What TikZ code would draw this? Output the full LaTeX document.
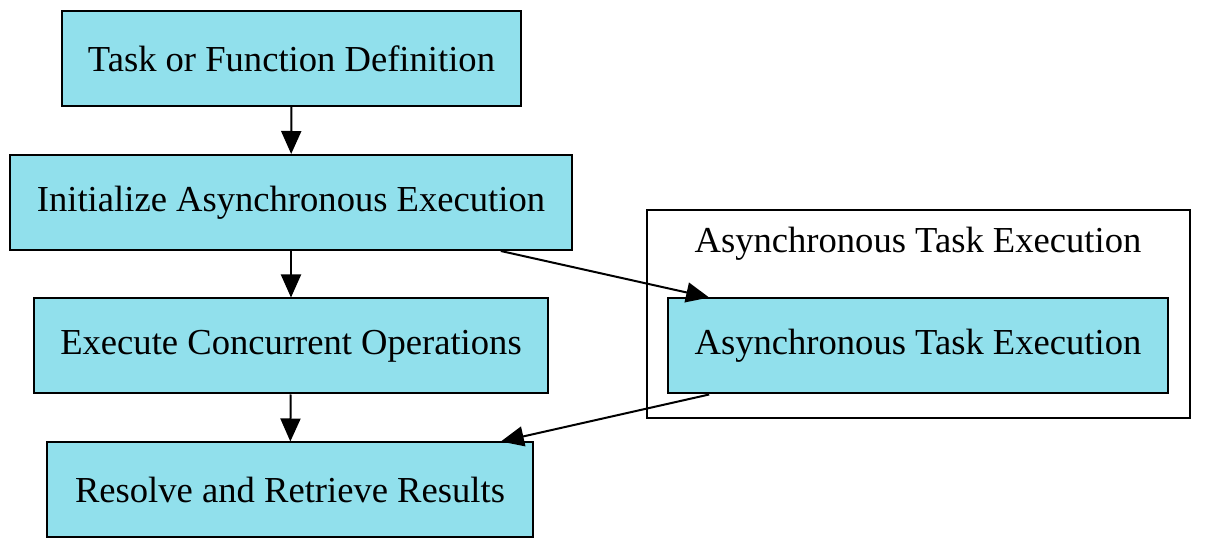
\documentclass[tikz,border=0pt]{standalone}
\usepackage{fontspec}
\setmainfont{Liberation Serif}
\usetikzlibrary{arrows.meta,calc}
\definecolor{boxfill}{RGB}{145,224,236}
\tikzset{
  px/.style={x=0.5pt,y=-0.5pt},
  box/.style={draw=black,line width=1pt,fill=boxfill,inner sep=0pt,
    font=\fontsize{18.3}{22}\selectfont,minimum height=47.5pt},
  cluster/.style={draw=black,line width=1pt},
  conn/.style={line width=1pt,-{Triangle[length=11.5pt,width=10pt]}}
}
\begin{document}
\begin{tikzpicture}[px]
\useasboundingbox (0,0) rectangle (1222,550);
\draw[cluster] (647,210) rectangle (1190,418);
\node[font=\fontsize{18.3}{22}\selectfont] (cl) at (918,244) {Asynchronous Task Execution};
\node[box,minimum width=229.5pt] (b1) at (291.5,58.5) {Task or Function Definition};
\node[box,minimum width=281pt] (b2) at (291,202.5) {Initialize Asynchronous Execution};
\node[box,minimum width=257pt] (b3) at (291,346) {Execute Concurrent Operations};
\node[box,minimum width=243pt] (b4) at (290,490) {Resolve and Retrieve Results};
\node[box,minimum width=250pt] (b5) at (918,346) {Asynchronous Task Execution};
\draw[conn] (b1) -- (b2);
\draw[conn] (b2) -- (b3);
\draw[conn] (b3) -- (b4);
\draw[conn] ($(b2.south west)!0.872!(b2.south east)$) -- ($(b5.north west)!0.084!(b5.north east)$);
\draw[conn] ($(b5.south west)!0.084!(b5.south east)$) -- ($(b4.north west)!0.932!(b4.north east)$);
\end{tikzpicture}
\end{document}
